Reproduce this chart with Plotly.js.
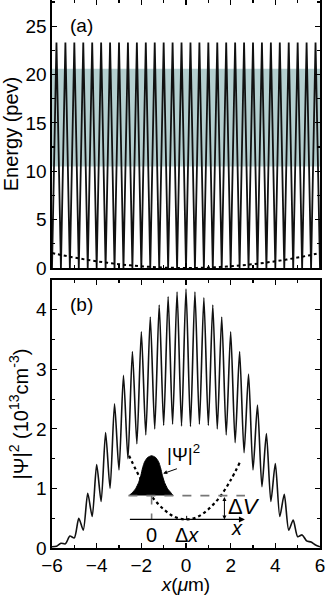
<!DOCTYPE html>
<html>
<head>
<meta charset="utf-8">
<script src="https://cdn.plot.ly/plotly-3.0.1.min.js"></script>
<style>
  html, body { margin: 0; padding: 0; background: #fff; }
  #chart { width: 327px; height: 595px; }
</style>
</head>
<body>
<div id="chart"></div>
<script>
// ---- (a) lattice potential: maxima / minima positions ----
const latMaxX = [-5.8, -5.4, -5.0, -4.6, -4.2, -3.8, -3.4, -3.0, -2.6, -2.2, -1.8, -1.4, -1.0, -0.6, -0.2,
                 0.2, 0.6, 1.0, 1.4, 1.8, 2.2, 2.6, 3.0, 3.4, 3.8, 4.2, 4.6, 5.0, 5.4, 5.8];
const latMaxE = [23.3, 23.3, 23.3, 23.3, 23.3, 23.3, 23.3, 23.3, 23.3, 23.3, 23.3, 23.3, 23.3, 23.3, 23.3,
                 23.3, 23.3, 23.3, 23.3, 23.3, 23.3, 23.3, 23.3, 23.3, 23.3, 23.3, 23.3, 23.3, 23.3, 23.3];
const latMinX = [-6.0, -5.6, -5.2, -4.8, -4.4, -4.0, -3.6, -3.2, -2.8, -2.4, -2.0, -1.6, -1.2, -0.8, -0.4, 0,
                 0.4, 0.8, 1.2, 1.6, 2.0, 2.4, 2.8, 3.2, 3.6, 4.0, 4.4, 4.8, 5.2, 5.6, 6.0];
const latMinE = [0, 0, 0, 0, 0, 0, 0, 0, 0, 0, 0, 0, 0, 0, 0, 0,
                 0, 0, 0, 0, 0, 0, 0, 0, 0, 0, 0, 0, 0, 0, 0];

// harmonic trap (dotted)
const trapX = [-6, -5.5, -5, -4.5, -4, -3.5, -3, -2.5, -2, -1.5, -1, -0.5, 0, 0.5, 1, 1.5, 2, 2.5, 3, 3.5, 4, 4.5, 5, 5.5, 6];
const trapE = [1.55, 1.30, 1.08, 0.87, 0.69, 0.53, 0.39, 0.27, 0.17, 0.10, 0.04, 0.01, 0, 0.01, 0.04, 0.10, 0.17, 0.27, 0.39, 0.53, 0.69, 0.87, 1.08, 1.30, 1.55];

// shaded energy band
const bandE = [10.5, 20.6];

// ---- (b) density: peaks at lattice minima, dips at maxima ----
const denPeakX = latMinX;
const denPeakY = [0.02, 0.08, 0.2, 0.5, 0.92, 1.4, 1.94, 2.42, 2.9, 3.3, 3.63, 3.88, 4.08, 4.22, 4.3, 4.35,
                  4.3, 4.2, 4.08, 3.88, 3.63, 3.3, 2.92, 2.4, 1.92, 1.42, 0.9, 0.47, 0.22, 0.1, 0.02];
const denDipX = latMaxX;
const denDipY = [0.03, 0.07, 0.17, 0.3, 0.53, 0.78, 1.0, 1.31, 1.5, 1.75, 1.9, 2.0, 2.06, 2.08, 2.05,
                 2.04, 2.08, 2.06, 2.0, 1.9, 1.77, 1.6, 1.31, 1.03, 0.78, 0.53, 0.3, 0.19, 0.12, 0.05];

// ---- inset sketch ----
const wellX = [-2.55, -2.4, -2.25, -2.12, -2.02, -1.94, -1.85, -1.72, -1.54, -1.36, -1.23, -1.14, -1.06, -0.96, -0.83, -0.68, -0.58];
const wellY = [0.88, 0.93, 1.0, 1.1, 1.22, 1.35, 1.45, 1.52, 1.55, 1.52, 1.45, 1.35, 1.22, 1.1, 1.0, 0.93, 0.88];
const parabX = [-2.55, -2.0, -1.5, -1.0, -0.5, 0, 0.5, 1.0, 1.5, 2.0, 2.4];
const parabY = [1.55, 1.14, 0.85, 0.65, 0.52, 0.48, 0.52, 0.65, 0.85, 1.14, 1.43];
const insetSpan = [-2.58, 2.64];
const levelY = 0.88;
const baseY = 0.48;
const siteX = -1.54;
const dvX = 1.72;

function interleave(ax, ay, bx, by) {
  const pts = [];
  ax.forEach((x, i) => pts.push([x, ay[i]]));
  bx.forEach((x, i) => pts.push([x, by[i]]));
  pts.sort((p, q) => p[0] - q[0]);
  return { x: pts.map(p => p[0]), y: pts.map(p => p[1]) };
}

const lat = interleave(latMinX, latMinE, latMaxX, latMaxE);
const den = interleave(denPeakX, denPeakY, denDipX, denDipY);

const FONT = 'Liberation Sans, Arial, Helvetica, sans-serif';

const traceLattice = {
  x: lat.x, y: lat.y, xaxis: 'x2', yaxis: 'y2', mode: 'lines',
  line: { color: '#111', width: 1.8 }, hoverinfo: 'skip'
};
const traceTrap = {
  x: trapX, y: trapE, xaxis: 'x2', yaxis: 'y2', mode: 'lines',
  line: { color: '#000', width: 2, dash: 'dot', shape: 'spline' }, hoverinfo: 'skip'
};
const traceDensity = {
  x: den.x, y: den.y, xaxis: 'x', yaxis: 'y', mode: 'lines',
  line: { color: '#111', width: 1.6, shape: 'spline', smoothing: 0.7 }, hoverinfo: 'skip'
};
const traceParab = {
  x: parabX, y: parabY, xaxis: 'x', yaxis: 'y', mode: 'lines',
  line: { color: '#000', width: 2.2, dash: 'dot', shape: 'spline' }, hoverinfo: 'skip'
};
const traceWell = {
  x: wellX, y: wellY, xaxis: 'x', yaxis: 'y', mode: 'lines', fill: 'toself',
  fillcolor: '#000', line: { color: '#000', width: 1, shape: 'spline', smoothing: 0.6 }, hoverinfo: 'skip'
};
const traceLevel = {
  x: insetSpan, y: [levelY, levelY], xaxis: 'x', yaxis: 'y', mode: 'lines',
  line: { color: '#777', width: 1.6, dash: 'dash' }, hoverinfo: 'skip'
};
const traceSite = {
  x: [siteX, siteX], y: [levelY, baseY], xaxis: 'x', yaxis: 'y', mode: 'lines',
  line: { color: '#777', width: 1.6, dash: 'dash' }, hoverinfo: 'skip'
};

const axisCommon = {
  showline: true, linecolor: '#000', linewidth: 1.6, mirror: 'ticks',
  ticks: 'inside', ticklen: 5, tickwidth: 1.2, tickcolor: '#000',
  showgrid: false, zeroline: false,
  tickfont: { family: FONT, size: 19, color: '#000' }
};

const layout = {
  width: 327, height: 595,
  margin: { l: 52, r: 7, t: 0, b: 47 },
  paper_bgcolor: '#fff', plot_bgcolor: '#fff',
  showlegend: false,
  xaxis: Object.assign({}, axisCommon, {
    domain: [0, 1], anchor: 'y', range: [-6, 6], dtick: 2,
    minor: { dtick: 1, ticks: 'inside', ticklen: 3, tickcolor: '#000' },
    title: { text: '<i>x</i>(<i>μ</i>m)', font: { family: FONT, size: 19, color: '#000' }, standoff: 3 }
  }),
  yaxis: Object.assign({}, axisCommon, {
    domain: [0, 0.489], anchor: 'x', range: [0, 4.5], dtick: 1,
    minor: { dtick: 0.5, ticks: 'inside', ticklen: 3, tickcolor: '#000' },
    title: { text: '|Ψ|<sup>2</sup> (10<sup>13</sup>cm<sup>-3</sup>)', font: { family: FONT, size: 20, color: '#000' }, standoff: 2 }
  }),
  xaxis2: Object.assign({}, axisCommon, {
    domain: [0, 1], anchor: 'y2', range: [-6, 6], dtick: 2, showticklabels: false,
    minor: { dtick: 1, ticks: 'inside', ticklen: 3, tickcolor: '#000' }
  }),
  yaxis2: Object.assign({}, axisCommon, {
    domain: [0.511, 1], anchor: 'x2', range: [0, 27.7], dtick: 5,
    minor: { dtick: 2.5, ticks: 'inside', ticklen: 3, tickcolor: '#000' },
    title: { text: 'Energy (pev)', font: { family: FONT, size: 20, color: '#000' }, standoff: 2 }
  }),
  shapes: [
    { type: 'rect', xref: 'x2 domain', yref: 'y2', x0: 0, x1: 1, y0: bandE[0], y1: bandE[1],
      fillcolor: '#b4cfcf', line: { width: 0 }, layer: 'below' },
    { type: 'line', xref: 'x', yref: 'y', x0: 0.03, x1: 0.03, y0: baseY, y1: baseY + 0.06,
      line: { color: '#000', width: 1 } }
  ],
  annotations: [
    { text: '(a)', xref: 'x2', yref: 'y2', x: -4.7, y: 25.1, showarrow: false,
      font: { family: FONT, size: 19, color: '#000' } },
    { text: '(b)', xref: 'x', yref: 'y', x: -4.7, y: 4.09, showarrow: false,
      font: { family: FONT, size: 19, color: '#000' } },
    // inset axis with arrow
    { xref: 'x', yref: 'y', axref: 'x', ayref: 'y', x: insetSpan[1], y: baseY, ax: insetSpan[0], ay: baseY,
      showarrow: true, arrowhead: 2, arrowsize: 1, arrowwidth: 1.2, arrowcolor: '#000', text: '' },
    // delta V double arrow
    { xref: 'x', yref: 'y', axref: 'x', ayref: 'y', x: dvX, y: baseY, ax: dvX, ay: levelY,
      showarrow: true, arrowhead: 2, startarrowhead: 2, arrowside: 'end+start', arrowsize: 0.8,
      arrowwidth: 1, arrowcolor: '#000', text: '' },
    // pointer to |Psi|^2
    { xref: 'x', yref: 'y', axref: 'x', ayref: 'y', x: -1.02, y: 1.25, ax: -0.34, ay: 1.34,
      showarrow: true, arrowhead: 2, arrowsize: 0.8, arrowwidth: 1, arrowcolor: '#000', text: '' },
    { text: '|Ψ|<sup>2</sup>', xref: 'x', yref: 'y', x: -0.1, y: 1.6, showarrow: false,
      font: { family: FONT, size: 19, color: '#000' } },
    { text: 'Δ<i>V</i>', xref: 'x', yref: 'y', x: 2.58, y: 0.69, showarrow: false,
      font: { family: FONT, size: 22, color: '#000' } },
    { text: '<i>x</i>', xref: 'x', yref: 'y', x: 2.27, y: 0.33, showarrow: false,
      font: { family: FONT, size: 20, color: '#000' } },
    { text: '0', xref: 'x', yref: 'y', x: siteX, y: 0.22, showarrow: false,
      font: { family: FONT, size: 20, color: '#000' } },
    { text: 'Δ<i>x</i>', xref: 'x', yref: 'y', x: 0.03, y: 0.22, showarrow: false,
      font: { family: FONT, size: 20, color: '#000' } }
  ]
};

Plotly.newPlot('chart',
  [traceLattice, traceTrap, traceDensity, traceParab, traceWell, traceLevel, traceSite],
  layout, { displayModeBar: false, staticPlot: true });
</script>
</body>
</html>
